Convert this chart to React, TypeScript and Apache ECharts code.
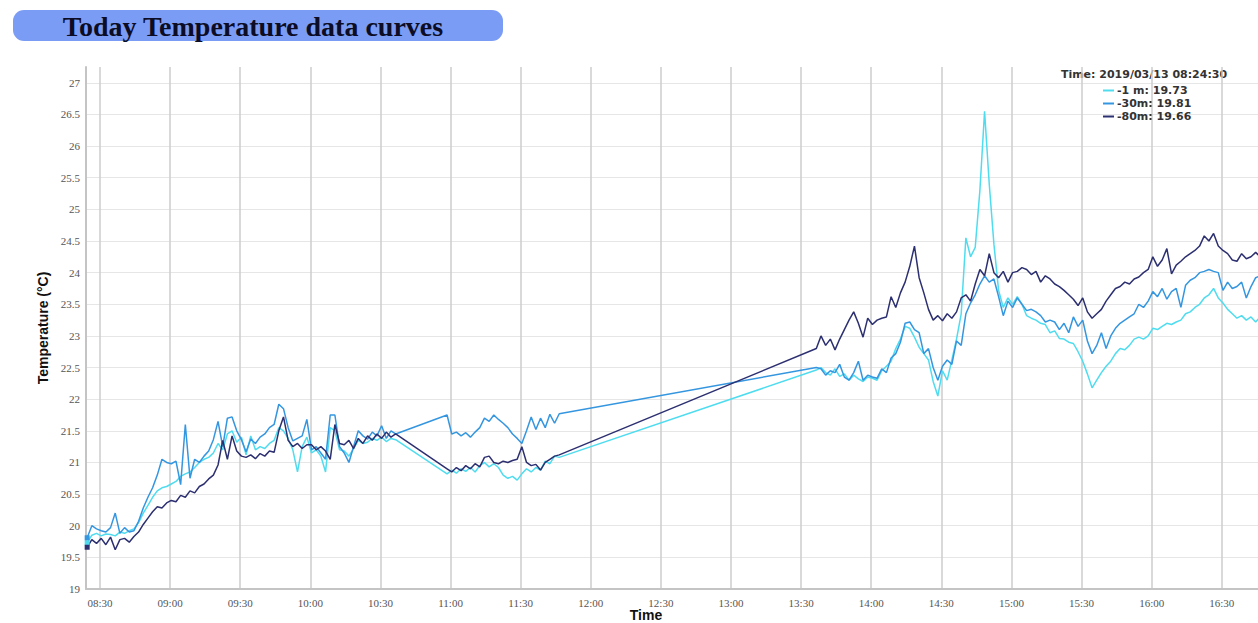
import { useEffect, useRef } from "react";
import * as echarts from "echarts";

// ---- data -------------------------------------------------------------
const DAY = "2019/03/13";
const TITLE = "Today Temperature data curves";
const SERIES_NAMES = ["-1 m", "-30m", "-80m"];
const SERIES_COLORS = ["#4fdcef", "#3596e0", "#2c2f70"];

// readings are logged every 2 minutes, in three blocks with gaps between them
const STEP_MINUTES = 2;
const SEGMENT_STARTS = ["08:24:30", "10:58:30", "13:36:30"];

const X_MIN = "08:24:00";
const X_MAX = "16:45:30";
const X_TICK_MINUTES = 30;
const Y_MIN = 19;
const Y_MAX = 27.25;
const Y_STEP = 0.5;

// -1 m
const m1Morning = [
  19.73, 19.85, 19.88, 19.84, 19.87, 19.86, 19.84, 19.9, 19.88, 19.92,
  19.95, 20.05, 20.2, 20.32, 20.45, 20.55, 20.6, 20.62, 20.66, 20.7,
  20.78, 20.82, 20.85, 20.92, 21.0, 21.05, 21.08, 21.15, 21.3, 21.2,
  21.45, 21.5, 21.32, 21.4, 21.12, 21.42, 21.2, 21.25, 21.22, 21.3,
  21.35, 21.55, 21.5, 21.38, 21.2, 20.85, 21.25, 21.4, 21.15, 21.2,
  21.1, 20.85, 21.55, 21.5, 21.2, 21.18, 21.1, 21.22, 21.35, 21.3,
  21.32, 21.38, 21.35, 21.4, 21.33, 21.38, 21.36,
];
const m1Midday = [
  20.82, 20.88, 20.83, 20.9, 20.86, 20.92, 20.85, 20.95, 21.0, 20.93,
  20.98, 20.92, 20.8, 20.75, 20.78, 20.72, 20.82, 20.9, 20.85, 20.92,
  20.88, 21.02, 20.98, 21.1, 21.08,
];
const m1Afternoon = [
  22.46, 22.5, 22.42, 22.38, 22.48, 22.36, 22.4, 22.3, 22.38, 22.32,
  22.28, 22.35, 22.33, 22.3, 22.45, 22.52, 22.6, 22.8, 22.95, 23.15,
  23.12, 22.98, 22.82, 22.72, 22.62, 22.28, 22.05, 22.45, 22.3, 22.62,
  22.95, 23.35, 24.55, 24.25, 24.4, 25.3, 26.55, 25.4, 24.45, 23.72,
  23.45, 23.6, 23.5, 23.62, 23.5, 23.32, 23.28, 23.25, 23.2, 23.18,
  23.05, 23.08, 22.96, 22.95, 22.9, 22.88, 22.75, 22.6, 22.4, 22.18,
  22.3, 22.42, 22.52, 22.6, 22.72, 22.8, 22.78, 22.85, 22.95, 22.98,
  22.95, 23.0, 23.12, 23.1, 23.15, 23.2, 23.18, 23.22, 23.25, 23.35,
  23.38, 23.45, 23.5, 23.6, 23.65, 23.75, 23.6, 23.52, 23.42, 23.35,
  23.28, 23.32, 23.25, 23.3, 23.22, 23.3,
];

// -30m
const m30Morning = [
  19.81, 20.0, 19.95, 19.92, 19.9, 19.97, 20.2, 19.88, 19.97, 19.9,
  19.92, 20.07, 20.28, 20.45, 20.6, 20.8, 21.05, 21.0, 20.98, 21.02,
  20.65, 21.6, 20.75, 21.05, 21.0, 21.1, 21.18, 21.36, 21.65, 21.25,
  21.7, 21.72, 21.5, 21.36, 21.17, 21.37, 21.3, 21.4, 21.45, 21.55,
  21.6, 21.92, 21.85, 21.55, 21.34, 21.38, 21.42, 21.68, 21.2, 21.25,
  21.15, 21.05, 21.75, 21.75, 21.25, 21.15, 21.0, 21.25, 21.5, 21.42,
  21.37, 21.48, 21.42, 21.58, 21.38, 21.5, 21.45,
];
const m30Midday = [
  21.75, 21.45, 21.48, 21.42, 21.47, 21.4, 21.48, 21.55, 21.7, 21.65,
  21.75, 21.68, 21.62, 21.55, 21.45, 21.38, 21.3, 21.5, 21.72, 21.52,
  21.7, 21.55, 21.76, 21.62, 21.77,
];
const m30Afternoon = [
  22.5, 22.48, 22.38, 22.45, 22.42, 22.55, 22.35, 22.3, 22.42, 22.6,
  22.3, 22.38, 22.35, 22.33, 22.48, 22.42, 22.65, 22.72, 22.9, 23.2,
  23.22, 23.1, 23.05, 22.72, 22.8, 22.5, 22.3, 22.52, 22.62, 22.55,
  22.92, 22.85, 23.35, 23.52, 23.65, 23.82, 23.95, 23.85, 23.9, 23.62,
  23.32, 23.55, 23.45, 23.6, 23.5, 23.4, 23.42, 23.38, 23.32, 23.22,
  23.25, 23.22, 23.1, 23.2, 23.05, 23.3, 23.15, 23.25, 22.92, 22.72,
  22.85, 23.05, 22.8, 23.0, 23.12, 23.2, 23.25, 23.3, 23.35, 23.5,
  23.45, 23.55, 23.7, 23.62, 23.75, 23.58, 23.7, 23.75, 23.45, 23.8,
  23.88, 23.92, 24.0, 24.02, 24.05, 24.02, 24.0, 23.72, 23.85, 23.75,
  23.78, 23.85, 23.6, 23.78, 23.92, 23.95,
];

// -80m
const m80Morning = [
  19.66, 19.78, 19.72, 19.8, 19.7, 19.82, 19.62, 19.78, 19.8, 19.74,
  19.83, 19.9, 20.02, 20.12, 20.22, 20.3, 20.28, 20.36, 20.4, 20.38,
  20.48, 20.45, 20.55, 20.52, 20.62, 20.66, 20.74, 20.8, 20.96, 21.35,
  21.05, 21.42, 21.18, 21.1, 21.08, 21.12, 21.06, 21.14, 21.1, 21.18,
  21.16, 21.5, 21.72, 21.35, 21.25, 21.3, 21.22, 21.28, 21.28, 21.2,
  21.25, 21.18, 21.05, 21.6, 21.3, 21.28, 21.35, 21.22, 21.38, 21.3,
  21.42, 21.35, 21.45, 21.38, 21.48, 21.4, 21.45,
];
const m80Midday = [
  20.9, 20.85, 20.92, 20.87, 20.95, 20.9, 20.98, 20.93, 21.08, 21.1,
  21.0, 20.98, 21.02, 21.0, 21.03, 21.05, 21.25, 21.0, 20.95, 20.97,
  20.88, 21.0, 21.05, 21.1, 21.12,
];
const m80Afternoon = [
  22.8, 23.0, 22.85, 22.95, 22.78, 22.95, 23.1, 23.25, 23.38, 23.2,
  22.98, 23.28, 23.18, 23.25, 23.28, 23.3, 23.62, 23.45, 23.68, 23.85,
  24.1, 24.42, 23.92, 23.68, 23.42, 23.25, 23.32, 23.24, 23.35, 23.28,
  23.38, 23.6, 23.65, 23.55, 23.82, 24.05, 23.95, 24.3, 24.0, 23.92,
  24.02, 23.85, 24.0, 24.02, 24.08, 24.05, 23.97, 24.02, 23.85, 23.95,
  23.9, 23.82, 23.78, 23.72, 23.65, 23.58, 23.48, 23.6, 23.38, 23.28,
  23.35, 23.42, 23.55, 23.65, 23.75, 23.78, 23.85, 23.82, 23.9, 23.93,
  24.0, 24.05, 24.25, 24.1, 24.2, 24.38, 23.98, 24.12, 24.18, 24.25,
  24.3, 24.35, 24.42, 24.58, 24.5, 24.62, 24.42, 24.35, 24.3, 24.2,
  24.18, 24.3, 24.22, 24.25, 24.32, 24.25,
];

const SERIES_SEGMENTS = [
  [m1Morning, m1Midday, m1Afternoon],
  [m30Morning, m30Midday, m30Afternoon],
  [m80Morning, m80Midday, m80Afternoon],
];

// ---- helpers ----------------------------------------------------------
// x values are minutes since midnight
const toMinutes = (hms: string) => {
  const [h, m, s] = hms.split(":").map(Number);
  return h * 60 + m + (s || 0) / 60;
};
const pad2 = (n: number) => (n < 10 ? "0" + n : String(n));

function buildPoints(segments: number[][]) {
  const points: any[] = [];
  SEGMENT_STARTS.forEach((start, s) => {
    const t0 = toMinutes(start);
    segments[s].forEach((v, i) => {
      const t = t0 + i * STEP_MINUTES;
      // the first reading of the day is marked with a small square
      points.push(points.length === 0 ? { value: [t, v], symbol: "rect", symbolSize: 5 } : [t, v]);
    });
  });
  return points;
}

function buildOption(): echarts.EChartsCoreOption {
  const firstValues: Record<string, number> = {};
  SERIES_NAMES.forEach((n, i) => (firstValues[n] = SERIES_SEGMENTS[i][0][0]));

  return {
    animation: false,
    backgroundColor: "#ffffff",
    grid: { left: 86, right: 0, top: 67, bottom: 34, outerBoundsMode: "none" },
    graphic: [
      {
        type: "rect",
        left: 13,
        top: 10,
        shape: { width: 490, height: 31, r: 11 },
        style: { fill: "#7b9cf5" },
      },
      {
        type: "text",
        x: 253,
        y: 26,
        style: {
          text: TITLE,
          font: 'bold 28px "Liberation Serif"',
          fill: "#0c0c24",
          align: "center",
          verticalAlign: "middle",
        },
      },
      {
        type: "text",
        x: 1144,
        y: 74,
        style: {
          text: `Time: ${DAY} ${SEGMENT_STARTS[0]}`,
          font: 'bold 11px "DejaVu Sans"',
          fill: "#333333",
          align: "center",
          verticalAlign: "middle",
        },
      },
    ],
    legend: {
      orient: "vertical",
      left: 1103,
      top: 85,
      padding: 0,
      itemGap: 2,
      itemWidth: 11,
      itemHeight: 2,
      icon: "rect",
      selectedMode: false,
      data: SERIES_NAMES,
      formatter: (name: string) => `${name}: ${firstValues[name].toFixed(2)}`,
      textStyle: {
        fontFamily: "DejaVu Sans",
        fontWeight: "bold",
        fontSize: 11,
        color: "#333333",
        padding: [0, 0, 0, -2],
      },
    },
    xAxis: {
      type: "value",
      min: toMinutes(X_MIN),
      max: toMinutes(X_MAX),
      minInterval: X_TICK_MINUTES,
      maxInterval: X_TICK_MINUTES,
      name: "Time",
      nameLocation: "middle",
      nameGap: 19,
      nameMoveOverlap: false,
      nameTextStyle: {
        fontFamily: "Liberation Sans",
        fontWeight: "bold",
        fontSize: 14,
        color: "#111111",
        padding: [0, 52, 0, 0],
      },
      axisLine: { show: true, lineStyle: { color: "#c4c4c4", width: 2 } },
      axisTick: { show: false },
      axisLabel: {
        fontFamily: "Liberation Serif",
        fontSize: 11,
        color: "#555555",
        margin: 8,
        hideOverlap: false,
        formatter: (v: number) => {
          const r = v % X_TICK_MINUTES;
          if (r > 1e-6 && X_TICK_MINUTES - r > 1e-6) return "";
          const total = Math.round(v);
          return `${pad2(Math.floor(total / 60))}:${pad2(total % 60)}`;
        },
      },
      splitLine: {
        show: true,
        showMinLine: false,
        showMaxLine: false,
        lineStyle: { color: "#cdcdcd", width: 1.5 },
      },
    },
    yAxis: {
      type: "value",
      min: Y_MIN,
      max: Y_MAX,
      interval: Y_STEP,
      name: "Temperature (°C)",
      nameLocation: "middle",
      nameGap: 36,
      nameTextStyle: {
        fontFamily: "Liberation Sans",
        fontWeight: "bold",
        fontSize: 14,
        color: "#111111",
      },
      axisLine: { show: true, lineStyle: { color: "#c4c4c4", width: 2 } },
      axisTick: { show: false },
      axisLabel: {
        fontFamily: "Liberation Serif",
        fontSize: 11,
        color: "#555555",
        margin: 6,
        formatter: (v: number) => (Number.isInteger(v * 2) ? String(v) : ""),
      },
      splitLine: { show: true, showMaxLine: false, lineStyle: { color: "#e6e6e6", width: 1 } },
    },
    series: SERIES_NAMES.map((name, i) => ({
      type: "line",
      name,
      data: buildPoints(SERIES_SEGMENTS[i]),
      symbol: "none",
      showSymbol: true,
      showAllSymbol: true,
      color: SERIES_COLORS[i],
      itemStyle: { color: SERIES_COLORS[i] },
      lineStyle: { color: SERIES_COLORS[i], width: 1.5 },
      emphasis: { disabled: true },
    })),
  };
}

export default function App() {
  const ref = useRef<HTMLDivElement>(null);
  useEffect(() => {
    if (!ref.current) return;
    const chart = echarts.init(ref.current, null, { renderer: "svg" });
    chart.setOption(buildOption());
    return () => chart.dispose();
  }, []);
  return (
    <div
      ref={ref}
      style={{ position: "fixed", left: 0, top: 0, width: 1258, height: 623, background: "#ffffff" }}
    />
  );
}
